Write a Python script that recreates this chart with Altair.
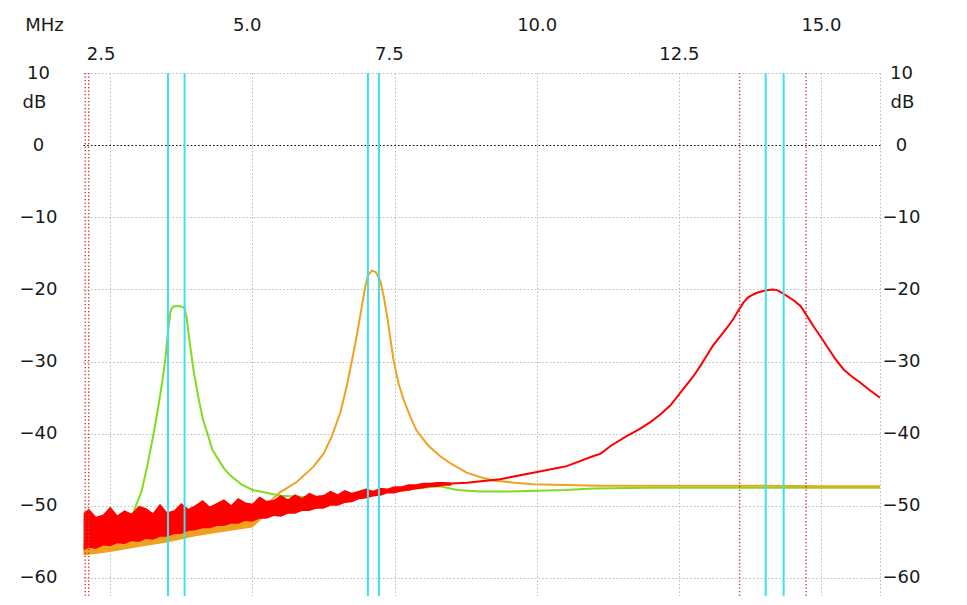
import altair as alt
import pandas as pd

# ---------------- data ----------------
x_ticks = [2.5, 5.0, 7.5, 10.0, 12.5, 15.0]
y_ticks = [-60, -50, -40, -30, -20, -10, 0, 10]
x_domain = [2.02, 16.04]
y_domain = [-62.5, 10]

green_f = [2.03, 2.5, 2.7, 2.9, 3.05, 3.15, 3.25, 3.33, 3.42, 3.47, 3.52, 3.56, 3.6, 3.7,
           3.8, 3.84, 3.9, 3.97, 4.05, 4.13, 4.3, 4.5, 4.6, 4.8, 5.0, 5.5, 6.0, 6.4, 6.8,
           7.2, 7.5, 8.0, 8.3, 8.6, 9.0, 9.5, 10.0, 10.5, 11.0, 12.0, 13.0, 14.0, 15.0, 16.04]
green_db = [-55.8, -54.5, -52.5, -51.0, -48.0, -44.5, -40.5, -37.0, -32.5, -29.5, -25.5, -23.0,
            -22.4, -22.3, -22.5, -23.7, -27.5, -31.5, -35.0, -38.0, -42.3, -44.8, -45.7, -47.0,
            -47.8, -48.6, -48.8, -48.8, -48.6, -48.2, -48.0, -47.5, -47.3, -47.8, -48.0, -48.0,
            -47.9, -47.8, -47.6, -47.5, -47.5, -47.5, -47.5, -47.5]

orange_f = [2.03, 2.5, 3.0, 3.5, 4.0, 4.5, 5.0, 5.25, 5.49, 5.78, 6.07, 6.25, 6.4, 6.55, 6.66,
            6.76, 6.84, 6.92, 6.98, 7.03, 7.10, 7.17, 7.25, 7.31, 7.37, 7.48, 7.57, 7.66, 7.78,
            7.89, 8.1, 8.3, 8.5, 8.77, 9.0, 9.24, 9.6, 9.94, 10.5, 11.12, 12.0, 13.0, 14.0, 15.0, 16.04]
orange_db = [-56.4, -55.9, -55.2, -54.6, -53.7, -53.1, -51.6, -49.8, -48.1, -46.7, -44.6, -42.8,
             -40.3, -37.0, -33.4, -29.5, -26.2, -22.6, -19.8, -18.1, -17.4, -17.6, -18.8, -21.0,
             -23.7, -29.7, -33.0, -35.3, -37.7, -39.6, -41.7, -43.1, -44.2, -45.4, -46.0, -46.5,
             -46.8, -47.0, -47.1, -47.2, -47.2, -47.2, -47.2, -47.3, -47.3]

orange_noise_f = [2.03, 2.5, 3.0, 3.5, 4.0, 4.5, 5.0, 5.2, 5.4]
orange_noise_hi = [-55.0, -54.5, -53.8, -53.2, -52.3, -51.7, -51.1, -50.3, -49.0]
orange_noise_lo = [-56.9, -56.4, -55.7, -55.1, -54.2, -53.6, -53.0, -51.6, -49.6]

red_noise_f = [2.03, 2.125, 2.25, 2.375, 2.5, 2.625, 2.75, 2.875, 3.0, 3.125, 3.25, 3.375,
               3.5, 3.625, 3.75, 3.875, 4.0, 4.125, 4.25, 4.375, 4.5, 4.625, 4.75, 4.875,
               5.0, 5.125, 5.25, 5.375, 5.5, 5.625, 5.75, 5.875, 6.0, 6.125, 6.25, 6.375,
               6.5, 6.625, 6.75, 6.875, 7.0, 7.125, 7.25, 7.375, 7.5, 7.625, 7.75, 7.875,
               8.0, 8.125, 8.25, 8.375, 8.5]
red_noise_hi = [-51.0, -50.4, -51.5, -51.2, -50.1, -51.3, -50.6, -51.1, -50.0, -50.3, -51.0,
                -49.7, -50.9, -50.6, -49.6, -50.4, -49.9, -49.2, -50.1, -49.6, -49.1, -49.9,
                -48.9, -49.5, -49.7, -48.7, -49.3, -49.2, -48.5, -49.1, -48.4, -48.9, -48.2,
                -48.6, -48.5, -47.9, -48.4, -47.8, -48.2, -47.9, -47.6, -47.9, -47.5, -47.6,
                -47.3, -47.3, -47.0, -47.0, -46.8, -46.8, -46.7, -46.7, -46.8]
red_noise_lo = [-56.1, -55.8, -56.0, -55.5, -55.6, -55.2, -55.3, -54.9, -55.0, -54.6, -54.7,
                -54.3, -54.3, -53.9, -53.9, -53.5, -53.4, -53.1, -53.1, -52.8, -52.8, -52.5,
                -52.5, -52.1, -52.2, -51.8, -51.8, -51.4, -51.5, -51.1, -51.1, -50.7, -50.7,
                -50.4, -50.4, -50.0, -50.0, -49.6, -49.5, -49.1, -49.0, -48.7, -48.6, -48.3,
                -48.3, -48.0, -47.9, -47.7, -47.6, -47.4, -47.4, -47.2, -47.2]

red_f = [8.3, 8.5, 8.77, 9.36, 9.94, 10.41, 10.53, 11.0, 11.12, 11.3, 11.59, 11.8, 12.0, 12.18,
         12.35, 12.53, 12.64, 12.76, 12.88, 12.99, 13.1, 13.23, 13.35, 13.46, 13.55, 13.64,
         13.72, 13.81, 13.9, 14.05, 14.15, 14.23, 14.3, 14.40, 14.52, 14.64, 14.75, 14.87,
         14.99, 15.10, 15.25, 15.40, 15.55, 15.69, 15.85, 16.04]
red_db = [-46.9, -46.9, -46.8, -46.3, -45.4, -44.7, -44.5, -43.1, -42.8, -41.7, -40.3, -39.4,
          -38.4, -37.3, -36.1, -34.3, -33.2, -32.0, -30.6, -29.2, -27.8, -26.5, -25.3, -24.1,
          -22.9, -21.8, -21.1, -20.7, -20.4, -20.1, -20.0, -20.1, -20.4, -20.9, -21.5, -22.3,
          -23.6, -25.1, -26.5, -27.8, -29.6, -31.1, -32.1, -32.9, -33.9, -35.0]

cyan_markers = [3.515, 3.807, 7.032, 7.226, 14.03, 14.345]
red_markers = [2.06, 2.12, 13.57, 14.74]

# ---------------- styling ----------------
FONT = "DejaVu Sans"
TXT = "#1a1a1a"
GRID = "#b8b8b8"
DOTS = [1.5, 2.2]

green_df = pd.DataFrame({"f": green_f, "db": green_db})
orange_df = pd.DataFrame({"f": orange_f, "db": orange_db})
red_df = pd.DataFrame({"f": red_f, "db": red_db})
onoise_df = pd.DataFrame({"f": orange_noise_f, "hi": orange_noise_hi, "lo": orange_noise_lo})
rnoise_df = pd.DataFrame({"f": red_noise_f, "hi": red_noise_hi, "lo": red_noise_lo})
cyan_df = pd.DataFrame({"f": cyan_markers})
redm_df = pd.DataFrame({"f": red_markers})

xscale = alt.Scale(domain=x_domain, nice=False, zero=False)
yscale = alt.Scale(domain=y_domain, nice=False, zero=False)

xaxis = alt.Axis(
    orient="top", values=x_ticks, title="MHz", titleAngle=0, titleX=-39, titleY=-48,
    titleAlign="center", titleBaseline="middle", titleFontWeight="normal",
    labelExpr="datum.value % 5 == 0 ? [format(datum.value, '.1f'), ''] : ['', format(datum.value, '.1f')]",
    labelAlign="left", labelBaseline="bottom",
    labelOffset={"condition": {"test": "datum.value == 2.5", "value": -24}, "value": -20},
    labelPadding=39,
    labelLineHeight=29, labelOverlap=False, labelBound=False, labelFlush=False,
    ticks=False, tickSize=0, domain=False,
    grid=True, gridColor=GRID, gridDash=DOTS, gridWidth=1,
)

yaxis_left = alt.Axis(
    orient="left", values=y_ticks, title="dB", titleAngle=0, titleX=-49, titleY=29,
    titleAlign="center", titleBaseline="middle", titleFontWeight="normal",
    labelAlign="center", labelBaseline="middle", labelPadding=45,
    ticks=False, tickSize=0, domain=False, labelOverlap=False, labelBound=False, labelFlush=False,
    grid=True,
    gridColor={"condition": {"test": "datum.value === 0", "value": "#000000"}, "value": GRID},
    gridDash=DOTS, gridWidth=1,
)

yaxis_right = alt.Axis(
    orient="right", values=y_ticks, title="dB", titleAngle=0, titleX=22, titleY=29,
    titleAlign="center", titleBaseline="middle", titleFontWeight="normal",
    labelAlign="center", labelBaseline="middle", labelPadding=21,
    ticks=False, tickSize=0, labelOverlap=False, labelBound=False, labelFlush=False,
    domain=True, domainColor=GRID, domainDash=DOTS, domainWidth=1, grid=False,
)

X = alt.X("f:Q", scale=xscale, axis=xaxis)

green = alt.Chart(green_df).mark_line(color="#7fdc1e", strokeWidth=2, clip=True).encode(
    x=X, y=alt.Y("db:Q", scale=yscale, axis=yaxis_left))

orange_noise = alt.Chart(onoise_df).mark_area(color="#f0a21e", clip=True).encode(
    x=X, y=alt.Y("hi:Q", scale=yscale, axis=None), y2="lo:Q")

orange = alt.Chart(orange_df).mark_line(color="#f0a21e", strokeWidth=2, clip=True).encode(
    x=X, y=alt.Y("db:Q", scale=yscale, axis=yaxis_right))

red_noise = alt.Chart(rnoise_df).mark_area(color="#ff0000", clip=True).encode(
    x=X, y=alt.Y("hi:Q", scale=yscale, axis=None), y2="lo:Q")

red = alt.Chart(red_df).mark_line(color="#ff0000", strokeWidth=2, clip=True).encode(
    x=X, y=alt.Y("db:Q", scale=yscale, axis=None))

cyan = alt.Chart(cyan_df).mark_rule(color="#3fe0ee", strokeWidth=2).encode(x=X)

redm = alt.Chart(redm_df).mark_rule(color="#d03a3a", strokeWidth=1.5, strokeDash=[1.3, 2.2]).encode(x=X)

chart = (
    alt.layer(green, orange_noise, orange, red_noise, red, cyan, redm)
    .resolve_axis(y="independent")
    .properties(
        width=797, height=523,
        padding={"left": 75, "top": 65, "right": 70, "bottom": 0},
        autosize=alt.AutoSizeParams(type="none"),
        background="white",
    )
    .configure_view(strokeWidth=0)
    .configure_axis(labelFont=FONT, labelFontSize=18, labelColor=TXT,
                    titleFont=FONT, titleFontSize=18, titleColor=TXT)
)

chart.save("out.html", embed_options={"renderer": "svg", "actions": False})
